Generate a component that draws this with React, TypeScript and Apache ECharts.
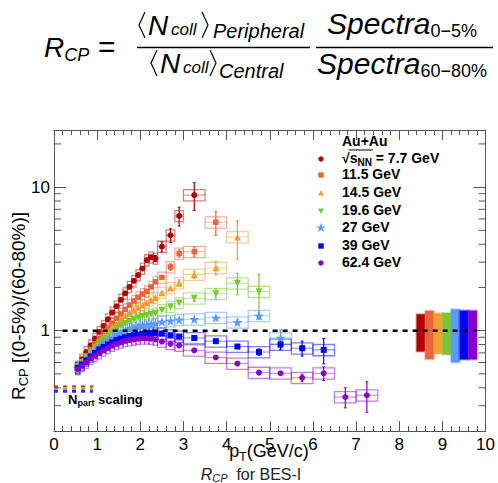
import React, { useEffect, useRef } from 'react';
import * as echarts from 'echarts';

// ---------- DATA ----------
const PT_EDGES = [0.5, 0.6, 0.7, 0.8, 0.9, 1.0, 1.1, 1.2, 1.3, 1.4, 1.5, 1.6, 1.7, 1.8, 1.9, 2.0, 2.1, 2.2, 2.3, 2.4, 2.6, 2.8, 3.0, 3.5, 4.0, 4.5, 5.0, 5.5, 6.0, 6.5, 7.0, 7.5];

const ENERGIES = ['7.7', '11.5', '14.5', '19.6', '27', '39', '62.4'];

const RCP_7_7 = [0.56, 0.63, 0.71, 0.79, 0.88, 0.98, 1.08, 1.2, 1.34, 1.48, 1.64, 1.82, 2.02, 2.22, 2.44, 2.71, 3.1, 3.25, 3.18, 3.85, 4.62, 6.3, 8.8];
const RCP_11_5 = [0.56, 0.61, 0.67, 0.74, 0.81, 0.88, 0.96, 1.04, 1.13, 1.22, 1.31, 1.41, 1.51, 1.61, 1.71, 1.8, 1.88, 2.02, 2.19, 2.35, 2.78, 3.45, 3.55, 5.7];
const RCP_14_5 = [0.56, 0.6, 0.66, 0.72, 0.78, 0.85, 0.92, 0.99, 1.06, 1.13, 1.2, 1.27, 1.33, 1.39, 1.45, 1.51, 1.57, 1.63, 1.7, 1.84, 1.98, 2.15, 2.46, 2.74, 4.5];
const RCP_19_6 = [0.56, 0.6, 0.65, 0.7, 0.76, 0.82, 0.88, 0.93, 0.98, 1.03, 1.08, 1.12, 1.16, 1.2, 1.23, 1.26, 1.28, 1.3, 1.32, 1.39, 1.47, 1.56, 1.68, 1.81, 2.14, 1.87];
const RCP_27 = [0.55, 0.59, 0.63, 0.68, 0.73, 0.78, 0.82, 0.86, 0.9, 0.94, 0.97, 1.0, 1.03, 1.05, 1.07, 1.09, 1.1, 1.11, 1.12, 1.155, 1.17, 1.19, 1.2, 1.23, 1.145, 1.27, 0.89];
const RCP_39 = [0.55, 0.58, 0.62, 0.66, 0.7, 0.74, 0.77, 0.8, 0.83, 0.86, 0.88, 0.9, 0.92, 0.93, 0.94, 0.95, 0.955, 0.96, 0.96, 0.955, 0.93, 0.91, 0.89, 0.845, 0.775, 0.71, 0.8, 0.755, 0.735];
const RCP_62_4 = [0.54, 0.57, 0.6, 0.64, 0.67, 0.7, 0.73, 0.76, 0.79, 0.81, 0.83, 0.85, 0.86, 0.87, 0.88, 0.885, 0.885, 0.88, 0.87, 0.84, 0.81, 0.79, 0.73, 0.65, 0.59, 0.51, 0.505, 0.47, 0.505, 0.345, 0.355];

// relative statistical errors of the last points of each series
const STAT_7_7 = [0.05, 0.08, 0.11, 0.15, 0.22];
const STAT_11_5 = [0.05, 0.06, 0.08, 0.19];
const STAT_14_5 = [0.05, 0.06, 0.11, 0.3];
const STAT_19_6 = [0.05, 0.08, 0.17, 0.32];
const STAT_27 = [0.04, 0.06, 0.14];
const STAT_39 = [0.05, 0.08, 0.12, 0.2];
const STAT_62_4 = [0.06, 0.11, 0.16, 0.24];

const SYS_REL = 0.09;

// normalisation uncertainty bands near R_CP = 1
const NORM_X0 = [8.4, 8.6, 8.8, 9.0, 9.2, 9.4, 9.6];
const NORM_X1 = [8.6, 8.8, 9.0, 9.2, 9.4, 9.6, 9.8];
const NORM_LO = [0.715, 0.633, 0.69, 0.68, 0.6, 0.63, 0.63];
const NORM_HI = [1.3, 1.377, 1.32, 1.33, 1.41, 1.38, 1.38];

// Npart scaling levels
const NPART = [0.41, 0.404, 0.398, 0.392, 0.386, 0.38, 0.374];
const NPART_X = [0, 0.9];

const REF_LEVEL = 1;
const REF_X = [0.2, 9.8];

const Y_MINOR = [0.3, 0.4, 0.5, 0.6, 0.7, 0.8, 0.9, 2, 3, 4, 5, 6, 7, 8, 9, 20];

// ---------- STYLE ----------
const COLORS = ['#b30000', '#e8643c', '#f0a030', '#78c832', '#5a9bff', '#0000ff', '#8800cc'];
const STAR = 'path://M0,-10 L2.35,-3.24 L9.51,-3.09 L3.8,1.24 L5.88,8.09 L0,4 L-5.88,8.09 L-3.8,1.24 L-9.51,-3.09 L-2.35,-3.24 Z';
const SYMBOLS = ['circle', 'rect', 'triangle', 'triangle', STAR, 'rect', 'circle'];
const SYMBOL_ROT = [0, 0, 0, 180, 0, 0, 0];
const SYMBOL_SIZE = [6, 5.5, 7, 7, 10, 6, 6];
const FONT = 'Liberation Sans';
const AXIS_COLOR = '#555';

const RCP = [RCP_7_7, RCP_11_5, RCP_14_5, RCP_19_6, RCP_27, RCP_39, RCP_62_4];
const STAT = [STAT_7_7, STAT_11_5, STAT_14_5, STAT_19_6, STAT_27, STAT_39, STAT_62_4];

let _ctx: CanvasRenderingContext2D | null = null;
function measure(t: string, size: number, italic?: boolean, bold?: boolean) {
  if (!_ctx) _ctx = document.createElement('canvas').getContext('2d');
  _ctx!.font = `${italic ? 'italic ' : ''}${bold ? 'bold ' : ''}${size}px "${FONT}"`;
  return _ctx!.measureText(t).width;
}

function T(x: number, y: number, text: string, size: number, italic = false, bold = false, fill = '#000') {
  return {
    type: 'text', x, y, silent: true,
    style: {
      text, fontSize: size, fontFamily: FONT, fontStyle: italic ? 'italic' : 'normal', fontWeight: bold ? 'bold' : 'normal',
      fill, align: 'left', verticalAlign: 'middle', textAlign: 'left', textVerticalAlign: 'middle',
    },
  };
}

type Piece = { t: string; s: number; dy?: number; i?: boolean; b?: boolean };
function seq(pieces: Piece[], x: number, y: number, center = false, fill = '#000') {
  const ws = pieces.map((p) => measure(p.t, p.s, p.i, p.b));
  const total = ws.reduce((a, b) => a + b, 0);
  let cx = center ? x - total / 2 : x;
  return pieces.map((p, k) => {
    const el = T(cx, y + (p.dy || 0), p.t, p.s, !!p.i, !!p.b, fill);
    cx += ws[k];
    return el;
  });
}

function L(x1: number, y1: number, x2: number, y2: number, w = 1.3, stroke = '#000') {
  return { type: 'line', silent: true, shape: { x1, y1, x2, y2 }, style: { stroke, lineWidth: w } };
}
function angle(points: number[][]) {
  return { type: 'polyline', silent: true, shape: { points }, style: { stroke: '#000', lineWidth: 1.2, fill: null } };
}

function starPoints(cx: number, cy: number, ro: number, ri: number) {
  const pts: number[][] = [];
  for (let k = 0; k < 10; k++) {
    const r = k % 2 === 0 ? ro : ri;
    const a = -Math.PI / 2 + (k * Math.PI) / 5;
    pts.push([cx + r * Math.cos(a), cy + r * Math.sin(a)]);
  }
  return pts;
}

function buildGraphic() {
  const els: any[] = [];
  // formula
  els.push(...seq([{ t: 'R', s: 28, i: true }, { t: 'CP', s: 18, i: true, dy: 8 }], 44, 47));
  els.push(T(98, 46, '=', 30));
  els.push(L(137, 47.5, 310, 47.5));
  els.push(angle([[145, 12], [139, 25], [145, 38]]));
  els.push(T(148, 25, 'N', 28, true));
  els.push(T(171, 29, 'coll', 17, true));
  els.push(angle([[202, 12], [208, 25], [202, 38]]));
  els.push(T(213, 31, 'Peripheral', 20, true));
  els.push(angle([[157, 50], [151, 63], [157, 76]]));
  els.push(T(160, 63, 'N', 28, true));
  els.push(T(183, 67, 'coll', 17, true));
  els.push(angle([[210, 50], [216, 63], [210, 76]]));
  els.push(T(219, 71, 'Central', 20, true));
  els.push(L(316, 47.5, 493, 47.5));
  els.push(...seq([{ t: 'Spectra', s: 30, i: true }, { t: '0\u22125%', s: 18, dy: 8 }], 327, 23));
  els.push(...seq([{ t: 'Spectra', s: 30, i: true }, { t: '60\u221280%', s: 18, dy: 8 }], 317, 63));

  // legend
  els.push(T(342, 141, 'Au+Au', 14, false, true));
  const symY = [159, 175, 193, 211, 228, 246, 263];
  const txtY = [158, 174, 192, 210, 227, 245, 262];
  const sx = 321;
  symY.forEach((y, k) => {
    const c = COLORS[k];
    if (k === 0 || k === 6) els.push({ type: 'circle', silent: true, shape: { cx: sx, cy: y, r: 2.7 }, style: { fill: c } });
    else if (k === 1 || k === 5) els.push({ type: 'rect', silent: true, shape: { x: sx - 2.7, y: y - 2.7, width: 5.4, height: 5.4 }, style: { fill: c } });
    else if (k === 2) els.push({ type: 'polygon', silent: true, shape: { points: [[sx, y - 3], [sx + 3, y + 2.5], [sx - 3, y + 2.5]] }, style: { fill: c } });
    else if (k === 3) els.push({ type: 'polygon', silent: true, shape: { points: [[sx, y + 3], [sx + 3, y - 2.5], [sx - 3, y - 2.5]] }, style: { fill: c } });
    else if (k === 4) els.push({ type: 'polygon', silent: true, shape: { points: starPoints(sx, y, 5, 2) }, style: { fill: c } });
  });
  const p0: Piece[] = [{ t: '\u221A', s: 14, b: true }, { t: 's', s: 14, b: true }, { t: 'NN', s: 10, b: true, dy: 4 }, { t: ' = 7.7 GeV', s: 14, b: true }];
  els.push(...seq(p0, 342, txtY[0]));
  const wr = measure('\u221A', 14, false, true);
  const ws = measure('s', 14, false, true) + measure('NN', 10, false, true);
  els.push(L(342 + wr - 1, txtY[0] - 8, 342 + wr + ws + 1, txtY[0] - 8, 1));
  ENERGIES.slice(1).forEach((e, k) => els.push(T(342, txtY[k + 1], `${e} GeV`, 14, false, true)));

  // Npart scaling text
  els.push(...seq([{ t: 'N', s: 13, b: true }, { t: 'part', s: 9, b: true, dy: 4 }, { t: ' scaling', s: 13, b: true }], 68, 399));

  // axis titles
  els.push(...seq([{ t: 'p', s: 18 }, { t: 'T', s: 12, dy: 6 }, { t: '(GeV/c)', s: 18 }], 269, 451, true));
  els.push(...seq([{ t: 'R', s: 16, i: true }, { t: 'CP', s: 11, i: true, dy: 4 }, { t: '  for BES-I', s: 16 }], 251, 474, true, '#222'));
  els.push({
    type: 'group', x: 18, y: 306, rotation: Math.PI / 2, silent: true,
    children: seq([{ t: 'R', s: 19 }, { t: 'CP', s: 13, dy: 5 }, { t: ' [(0-5%)/(60-80%)]', s: 19 }], 0, 0, true),
  });
  return els;
}

function buildOption() {
  const centers = PT_EDGES.slice(0, -1).map((e, k) => (e + PT_EDGES[k + 1]) / 2);
  const widths = PT_EDGES.slice(0, -1).map((e, k) => PT_EDGES[k + 1] - e);
  const series: any[] = [];

  // normalisation bands
  series.push({
    type: 'custom', silent: true, z: 2,
    data: NORM_X0.map((x0, k) => [x0, NORM_LO[k], NORM_X1[k], NORM_HI[k]]),
    renderItem: (p: any, api: any) => {
      const a = api.coord([api.value(0), api.value(3)]);
      const b = api.coord([api.value(2), api.value(1)]);
      return {
        type: 'rect', shape: { x: a[0], y: a[1], width: b[0] - a[0], height: b[1] - a[1] },
        style: { fill: COLORS[p.dataIndex], stroke: COLORS[p.dataIndex], strokeOpacity: 0.35, lineWidth: 2 },
      };
    },
  });

  RCP.forEach((vals, s) => {
    const color = COLORS[s];
    const boxData = vals.map((v, k) => [centers[k], v, widths[k]]);
    series.push({
      type: 'custom', silent: true, z: 3,
      data: boxData,
      renderItem: (p: any, api: any) => {
        const x = api.value(0), y = api.value(1), w = api.value(2);
        const a = api.coord([x - w / 2, y * (1 + SYS_REL)]);
        const b = api.coord([x + w / 2, y * (1 - SYS_REL)]);
        const c = api.coord([x, y]);
        return {
          type: 'group',
          children: [
            { type: 'rect', shape: { x: a[0], y: a[1], width: b[0] - a[0], height: b[1] - a[1] }, style: { fill: 'none', stroke: color, lineWidth: 1.3, opacity: 0.5 } },
            { type: 'line', shape: { x1: a[0], y1: c[1], x2: b[0], y2: c[1] }, style: { stroke: color, lineWidth: 1, opacity: 0.5 } },
          ],
        };
      },
    });
    const st = STAT[s];
    const off = vals.length - st.length;
    series.push({
      type: 'custom', silent: true, z: 3,
      data: st.map((e, k) => [centers[off + k], vals[off + k], e]),
      renderItem: (p: any, api: any) => {
        const x = api.value(0), y = api.value(1), e = api.value(2);
        const a = api.coord([x, y * (1 + e)]);
        const b = api.coord([x, y * (1 - e)]);
        return {
          type: 'group',
          children: [
            { type: 'line', shape: { x1: a[0], y1: a[1], x2: b[0], y2: b[1] }, style: { stroke: color, lineWidth: 1.2 } },
            { type: 'line', shape: { x1: a[0] - 1.5, y1: a[1], x2: a[0] + 1.5, y2: a[1] }, style: { stroke: color, lineWidth: 1 } },
            { type: 'line', shape: { x1: b[0] - 1.5, y1: b[1], x2: b[0] + 1.5, y2: b[1] }, style: { stroke: color, lineWidth: 1 } },
          ],
        };
      },
    });
    series.push({
      type: 'scatter', name: ENERGIES[s], z: 3, silent: true,
      symbol: SYMBOLS[s], symbolRotate: SYMBOL_ROT[s], symbolSize: SYMBOL_SIZE[s],
      itemStyle: { color, opacity: 1 },
      data: vals.map((v, k) => [centers[k], v]),
    });
  });

  // Npart scaling dashes
  NPART.forEach((v, k) => {
    series.push({
      type: 'line', silent: true, z: 4, symbol: 'none',
      data: NPART_X.map((x) => [x, v]),
      lineStyle: { color: COLORS[k], width: 1.5, type: [4, 5] },
    });
  });

  // reference dashed line at 1
  series.push({
    type: 'line', silent: true, z: 5, symbol: 'none',
    data: REF_X.map((x) => [x, REF_LEVEL]),
    lineStyle: { color: '#000', width: 2.5, type: [5, 5] },
  });

  // y minor ticks (log decades)
  series.push({
    type: 'custom', silent: true, z: 6,
    data: Y_MINOR.map((v) => [0, v]),
    renderItem: (p: any, api: any) => {
      const v = api.value(1);
      const l = api.coord([0, v]);
      const r = api.coord([10, v]);
      return {
        type: 'group',
        children: [
          { type: 'line', shape: { x1: l[0], y1: l[1], x2: l[0] + 7, y2: l[1] }, style: { stroke: AXIS_COLOR, lineWidth: 1 } },
          { type: 'line', shape: { x1: r[0] - 7, y1: r[1], x2: r[0], y2: r[1] }, style: { stroke: AXIS_COLOR, lineWidth: 1 } },
        ],
      };
    },
  });

  const near = (v: number, t: number) => Math.abs(v - t) < 1e-6 * t;
  const axisLine = { show: true, onZero: false, lineStyle: { color: AXIS_COLOR, width: 1 } };
  const xBase = {
    type: 'value', min: 0, max: 10, interval: 1,
    axisLine,
    axisTick: { show: true, inside: true, length: 10, lineStyle: { color: AXIS_COLOR } },
    minorTick: { show: true, splitNumber: 5, length: 5, lineStyle: { color: AXIS_COLOR } },
    splitLine: { show: false }, minorSplitLine: { show: false },
  };
  const yBase = {
    type: 'log', logBase: 10, min: 0.2, max: 25,
    axisLine,
    axisTick: { show: true, inside: true, length: 12, lineStyle: { color: AXIS_COLOR } },
    splitLine: { show: false },
  };

  return {
    animation: false,
    backgroundColor: '#fff',
    grid: { left: 54, right: 11, top: 130, bottom: 52, containLabel: false },
    xAxis: [
      { ...xBase, position: 'bottom', axisLabel: { fontSize: 17, fontFamily: FONT, color: '#000', margin: 5 } },
      { ...xBase, position: 'top', axisLabel: { show: false } },
    ],
    yAxis: [
      {
        ...yBase, position: 'left',
        axisLabel: {
          fontSize: 17, fontFamily: FONT, color: '#000', margin: 4,
          formatter: (v: number) => (near(v, 1) ? '1' : near(v, 10) ? '10' : ''),
        },
      },
      { ...yBase, position: 'right', axisLabel: { show: false } },
    ],
    series,
    graphic: { elements: buildGraphic() },
  };
}

export default function App() {
  const ref = useRef<HTMLDivElement>(null);
  useEffect(() => {
    const chart = echarts.init(ref.current!, null, { renderer: 'svg' });
    chart.setOption(buildOption() as any);
    return () => chart.dispose();
  }, []);
  return <div ref={ref} style={{ position: 'fixed', left: 0, top: 0, width: 498, height: 483, background: '#fff' }} />;
}
